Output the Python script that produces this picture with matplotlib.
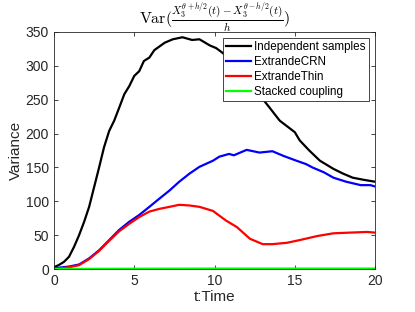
import numpy as np
import matplotlib
matplotlib.use('Agg')
import matplotlib.pyplot as plt

plt.rcParams['font.family'] = ['Liberation Sans', 'DejaVu Sans']
plt.rcParams['mathtext.fontset'] = 'cm'

# Independent samples
t_ind = [0, 0.31, 0.63, 0.94, 1.25, 1.56, 1.88, 2.19, 2.5, 2.81, 3.12, 3.44, 3.75, 4.06, 4.38,
         4.69, 5.0, 5.31, 5.6, 5.94, 6.25, 6.9, 7.4, 8.0, 8.6, 9.06, 9.7, 10.1, 10.5,
         11.5, 12.3, 13.1, 13.4, 14.06, 15.0, 15.3, 15.9, 16.56, 17.4, 18.0, 18.6, 19.25, 20.0]
v_ind = [3, 6.3, 11, 18.5, 33, 50, 70, 92, 121, 150, 180, 204, 219, 238, 258,
         270, 285, 292, 307, 312, 323, 334, 339, 342, 338, 339, 330, 326, 319,
         298, 275, 248, 239, 219, 202, 190, 175, 160, 148, 141, 135, 132, 129]

# ExtrandeCRN
t_crn = [0, 0.94, 1.56, 2.19, 2.81, 3.44, 4.06, 4.69, 5.31, 5.94, 6.56, 7.19, 7.8, 8.44, 9.06,
         9.9, 10.3, 10.9, 11.2, 12.0, 12.8, 13.6, 14.3, 15.1, 15.7, 16.1, 16.8, 17.4, 18.2, 19.1, 19.7, 20.0]
v_crn = [1.5, 4, 7, 16, 28, 43, 58, 70, 80, 92, 104, 116, 129, 141, 151,
         160, 166, 170, 168, 176, 172, 174, 167, 160, 155, 150, 143, 135, 129, 124, 124, 122]

# ExtrandeThin
t_thin = [0, 0.94, 1.56, 2.19, 2.81, 3.44, 4.06, 4.69, 5.31, 5.94, 6.56, 7.19, 7.8, 8.44, 9.06,
          9.9, 10.7, 11.4, 12.2, 13.0, 13.6, 14.5, 15.3, 16.4, 17.4, 18.4, 19.5, 20.0]
v_thin = [0, 3, 6, 15, 27, 42, 56, 67, 77, 85, 89, 92, 95, 94, 92,
          86, 72, 62, 45, 37, 37, 39, 43, 49, 53, 54, 55, 54]

# Stacked coupling
t_stk = [0, 5, 10, 15, 20]
v_stk = [0.5, 0.8, 1.0, 1.0, 1.0]

fig = plt.figure(figsize=(4.15, 3.12), dpi=100)
ax = fig.add_axes([0.130, 0.137, 0.774, 0.761])

ax.plot(t_ind, v_ind, color='black', lw=1.6, label='Independent samples')
ax.plot(t_crn, v_crn, color='blue', lw=1.6, label='ExtrandeCRN')
ax.plot(t_thin, v_thin, color='red', lw=1.6, label='ExtrandeThin')
ax.plot(t_stk, v_stk, color='#00ff00', lw=1.6, label='Stacked coupling')

ax.set_xlim(0, 20)
ax.set_ylim(0, 350)
ax.set_xticks([0, 5, 10, 15, 20])
ax.set_yticks(np.arange(0, 351, 50))
ax.tick_params(direction='in', top=True, right=True, labelsize=10, length=3,
               color='#262626', labelcolor='#262626', width=0.6)
for s in ax.spines.values():
    s.set_color('#262626')
    s.set_linewidth(0.6)

ax.set_xlabel('t:Time', fontsize=11, color='#262626', labelpad=1)
ax.set_ylabel('Variance', fontsize=11, color='#262626', labelpad=2)
ax.set_title(r'$\mathrm{Var}(\frac{X_3^{\theta+h/2}(t)-X_3^{\theta-h/2}(t)}{h})$',
             fontsize=11.5, pad=5.5)

leg = ax.legend(loc='upper right', fontsize=8.4, frameon=True, fancybox=False, framealpha=1,
                borderpad=0.25, labelspacing=0.25, handlelength=2.1, handletextpad=0.3,
                borderaxespad=0.55)
leg.get_frame().set_edgecolor('#262626')
leg.get_frame().set_linewidth(0.6)

fig.savefig('out.png', dpi=100)
